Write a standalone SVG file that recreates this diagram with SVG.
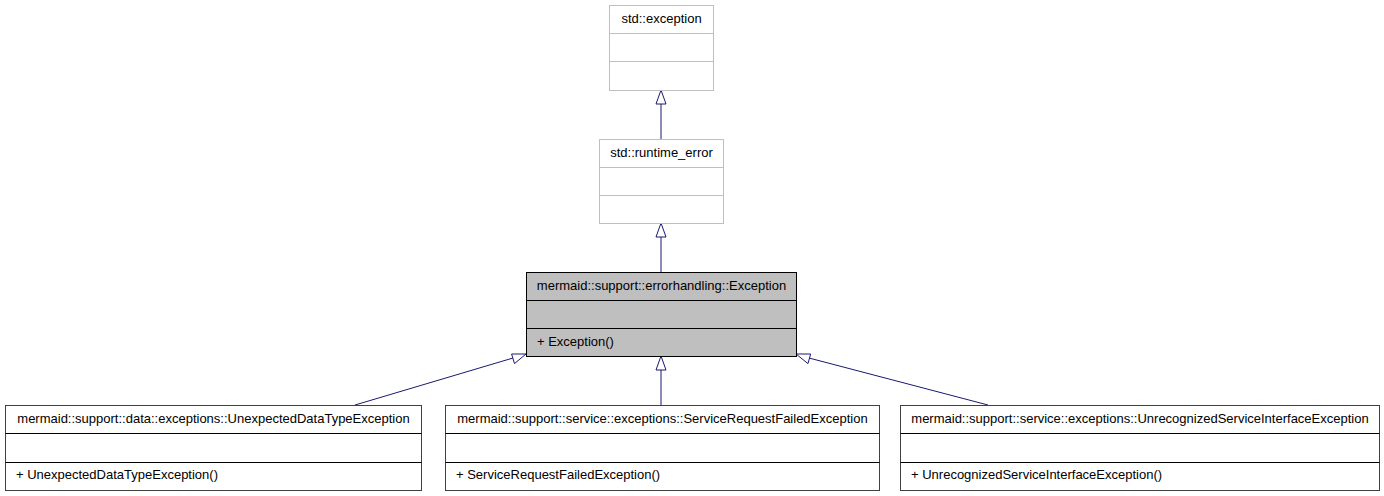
<svg xmlns="http://www.w3.org/2000/svg" width="1384" height="496" viewBox="0 0 1384 496">
<style>
text{font-family:"Liberation Sans",Arial,sans-serif;font-size:13px;fill:#000}
.ext{fill:#fff;stroke:#bfbfbf;stroke-width:1}
.cls{fill:#fff;stroke:#404040;stroke-width:1}
.cur{fill:#bfbfbf;stroke:#000;stroke-width:1}
.sep-ext{stroke:#bfbfbf;stroke-width:1}
.sep{stroke:#000;stroke-width:1}
.edge{fill:none;stroke:#191970;stroke-width:1}
.head{fill:#fff;stroke:#191970;stroke-width:1}
.c{text-anchor:middle}
</style>
<rect width="1384" height="496" fill="#fff"/>
<g id="connectors">
<line class="edge" x1="661" y1="104" x2="661" y2="139"/>
<polygon class="head" points="661,90 666,104 656,104"/>
<line class="edge" x1="661" y1="237" x2="661" y2="272"/>
<polygon class="head" points="661,223 666,237 656,237"/>
<line class="edge" x1="661" y1="370" x2="661" y2="405"/>
<polygon class="head" points="661,356 666,370 656,370"/>
<line class="edge" x1="513" y1="358" x2="355" y2="405"/>
<polygon class="head" points="526,354 514.5,363.6 511.6,354"/>
<line class="edge" x1="809" y1="358" x2="988" y2="405"/>
<polygon class="head" points="796,354 810.6,354 808,363.6"/>
</g>
<g id="std_exception">
<rect class="ext" x="609.5" y="5.5" width="104" height="85"/>
<line class="sep-ext" x1="609.5" y1="33.5" x2="713.5" y2="33.5"/>
<line class="sep-ext" x1="609.5" y1="61.5" x2="713.5" y2="61.5"/>
<text class="c" x="661.5" y="23">std::exception</text>
</g>
<g id="std_runtime_error">
<rect class="ext" x="599.5" y="139.5" width="124" height="84"/>
<line class="sep-ext" x1="599.5" y1="167.5" x2="723.5" y2="167.5"/>
<line class="sep-ext" x1="599.5" y1="195.5" x2="723.5" y2="195.5"/>
<text class="c" x="661.5" y="157">std::runtime_error</text>
</g>
<g id="errorhandling_Exception">
<rect class="cur" x="526.5" y="272.5" width="270" height="84"/>
<line class="sep" x1="526.5" y1="300.5" x2="796.5" y2="300.5"/>
<line class="sep" x1="526.5" y1="328.5" x2="796.5" y2="328.5"/>
<text class="c" x="661.5" y="290">mermaid::support::errorhandling::Exception</text>
<text x="537" y="346">+ Exception()</text>
</g>
<g id="UnexpectedDataTypeException">
<rect class="cls" x="5.5" y="405.5" width="416" height="85"/>
<line class="sep" x1="5.5" y1="433.5" x2="421.5" y2="433.5"/>
<line class="sep" x1="5.5" y1="462.5" x2="421.5" y2="462.5"/>
<text class="c" x="213.5" y="423">mermaid::support::data::exceptions::UnexpectedDataTypeException</text>
<text x="16" y="479">+ UnexpectedDataTypeException()</text>
</g>
<g id="ServiceRequestFailedException">
<rect class="cls" x="445.5" y="405.5" width="434" height="85"/>
<line class="sep" x1="445.5" y1="433.5" x2="879.5" y2="433.5"/>
<line class="sep" x1="445.5" y1="462.5" x2="879.5" y2="462.5"/>
<text class="c" x="662.5" y="423">mermaid::support::service::exceptions::ServiceRequestFailedException</text>
<text x="456" y="479">+ ServiceRequestFailedException()</text>
</g>
<g id="UnrecognizedServiceInterfaceException">
<rect class="cls" x="900.5" y="405.5" width="479" height="85"/>
<line class="sep" x1="900.5" y1="433.5" x2="1379.5" y2="433.5"/>
<line class="sep" x1="900.5" y1="462.5" x2="1379.5" y2="462.5"/>
<text class="c" x="1140" y="423">mermaid::support::service::exceptions::UnrecognizedServiceInterfaceException</text>
<text x="911" y="479">+ UnrecognizedServiceInterfaceException()</text>
</g>
</svg>
